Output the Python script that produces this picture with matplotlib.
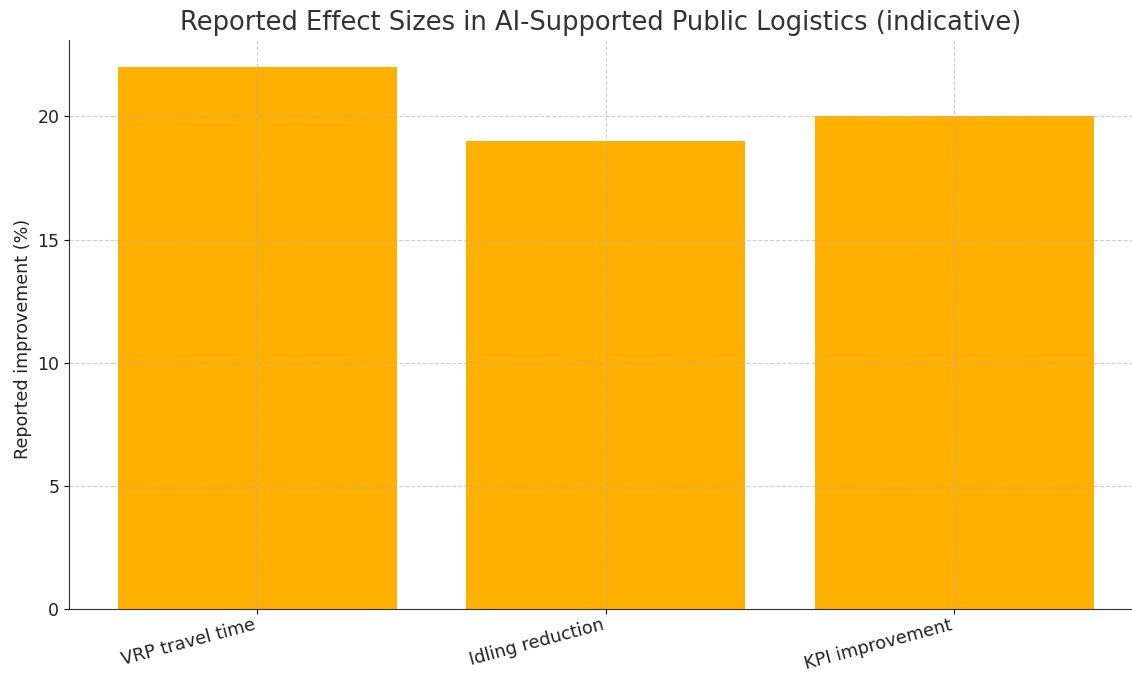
import matplotlib
matplotlib.use("Agg")
import matplotlib.pyplot as plt

categories = ["VRP travel time", "Idling reduction", "KPI improvement"]
values = [22, 19, 20]
yticks = [0, 5, 10, 15, 20]

fig = plt.figure(figsize=(11.32, 6.73), dpi=100)
ax = fig.add_axes([69/1132, 64/673, 1 - 69/1132, (609-40)/673])
x = list(range(len(categories)))
ax.bar(x, values, width=0.8, color="#FFB000", zorder=1)
ax.set_xticks(x)
ax.set_xticklabels(categories, rotation=15, ha="right", fontsize=12.8, color="#222222")
ax.tick_params(axis="x", pad=1.5)
ax.set_yticks(yticks)
ax.tick_params(axis="y", labelsize=12.5, labelcolor="#222222")
ax.set_xlim(-0.54, 2.51)
ax.set_ylim(0, 23.1)
ax.grid(True, linestyle="--", color="#b0b0b0", alpha=0.6, linewidth=0.8, zorder=2)
ax.set_axisbelow(False)
for s in ["top", "right"]:
    ax.spines[s].set_visible(False)
ax.spines["left"].set_color("#333333")
ax.spines["bottom"].set_color("#333333")
ax.set_ylabel("Reported improvement (%)", fontsize=12.6, color="#222222")
ax.yaxis.set_label_coords(-0.035, 0.475)
ax.set_title("Reported Effect Sizes in AI-Supported Public Logistics (indicative)", fontsize=18.5, color="#333333", pad=7)
fig.savefig("out.png", dpi=100)
